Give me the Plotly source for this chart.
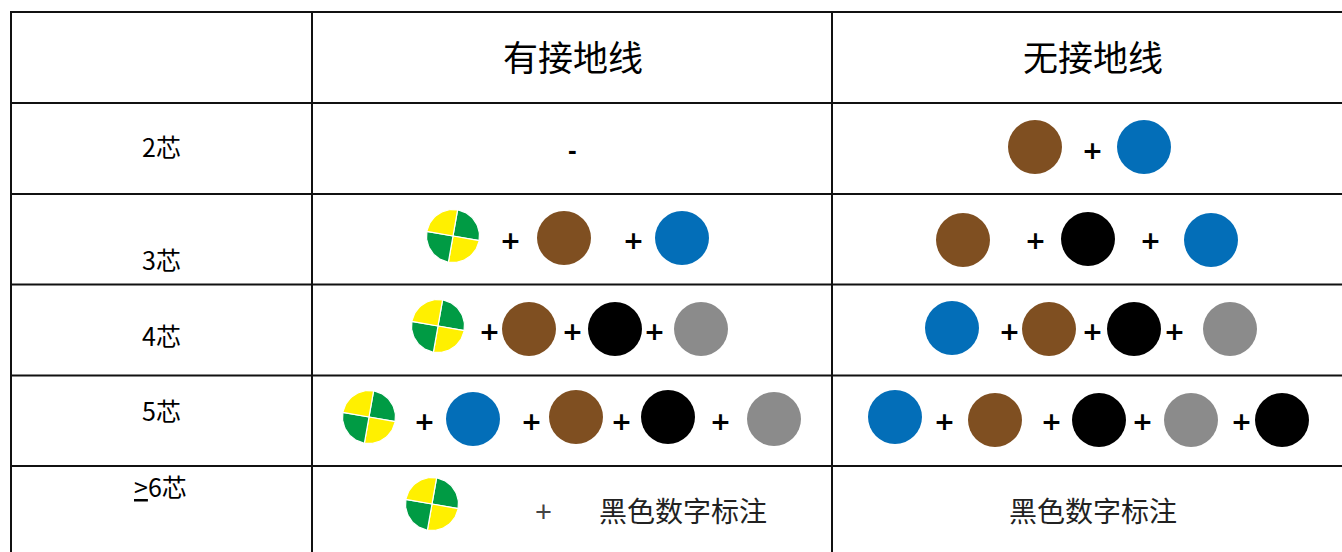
import math
import plotly.graph_objects as go

# ---------------- data ----------------
core_labels = ["2芯", "3芯", "4芯", "5芯", "<u>></u>6芯"]
column_headers = ["有接地线", "无接地线"]
# wire colour codes in each cell (GY = green/yellow earth)
grounded_wires = [[], ["GY", "棕", "蓝"], ["GY", "棕", "黑", "灰"],
                  ["GY", "蓝", "棕", "黑", "灰"], ["GY"]]
ungrounded_wires = [["棕", "蓝"], ["棕", "黑", "蓝"], ["蓝", "棕", "黑", "灰"],
                    ["蓝", "棕", "黑", "灰", "黑"], []]
none_mark = "-"
plus_mark = "+"
number_note = "黑色数字标注"

# ---------------- layout (pixel positions) ----------------
W, H = 1342, 552
row_lines = [12, 103, 194, 284.5, 375.5, 466]
col_lines = [11, 312, 832]
header_pos = [(573, 58), (1093, 58)]
label_pos = [(161, 149), (161, 262), (161, 338), (161, 413), (160, 489)]

g_wire_x = [[], [453, 564, 682], [438, 529, 615, 701], [369, 473, 576, 668, 774], [432]]
g_wire_y = [[], [236, 238, 238], [326, 329, 329, 329], [417, 419, 417, 417, 419], [504]]
g_plus_x = [[], [510, 633], [489, 572, 654], [424, 531, 621, 720], []]
g_plus_y = [None, 240, 331, 421, None]

u_wire_x = [[1035, 1144], [963, 1088, 1211], [952, 1049, 1134, 1230], [895, 995, 1099, 1191, 1282], []]
u_wire_y = [[147, 147], [240, 239, 240], [328, 329, 329, 329], [417, 420, 420, 420, 420], []]
u_plus_x = [[1092], [1035, 1150], [1009, 1092, 1174], [944, 1051, 1142, 1241], []]
u_plus_y = [150, 240, 331, 421, None]

colour = {"棕": "#7F4F21", "蓝": "#036EB8", "黑": "#000000", "灰": "#8B8B8B"}
GREEN, YELLOW = "#009B44", "#FFF000"
R_GY = 26.5
DOT = 54

CJK = "Noto Sans CJK SC"

fig = go.Figure()

# solid coloured wires
for wires, xs, ys in [(grounded_wires, g_wire_x, g_wire_y), (ungrounded_wires, u_wire_x, u_wire_y)]:
    for r, cell in enumerate(wires):
        for i, c in enumerate(cell):
            if c == "GY":
                cx, cy = xs[r][i], ys[r][i]
                # four quarters, rotated ~10 deg clockwise
                for q, (a0, fillc) in enumerate([(-80, GREEN), (10, YELLOW), (100, GREEN), (190, YELLOW)]):
                    px, py = [cx], [cy]
                    for k in range(31):
                        a = math.radians(a0 + 90 * k / 30)
                        px.append(cx + R_GY * math.cos(a))
                        py.append(cy + R_GY * math.sin(a))
                    px.append(cx); py.append(cy)
                    fig.add_trace(go.Scatter(x=px, y=py, mode="lines", fill="toself",
                                             fillcolor=fillc, line=dict(color="white", width=1.2),
                                             hoverinfo="skip", showlegend=False))
            else:
                fig.add_trace(go.Scatter(x=[xs[r][i]], y=[ys[r][i]], mode="markers",
                                         marker=dict(size=DOT, color=colour[c], line=dict(width=0)),
                                         hoverinfo="skip", showlegend=False))

# bold plus signs (text)
for pxs, py in [(g_plus_x, g_plus_y), (u_plus_x, u_plus_y)]:
    for r, row in enumerate(pxs):
        for x in row:
            fig.add_annotation(x=x, y=py[r], text="<b>" + plus_mark + "</b>", showarrow=False,
                               font=dict(family="DejaVu Sans", size=25, color="#000"),
                               xanchor="center", yanchor="middle")

# table lines
shapes = []
for y in row_lines:
    shapes.append(dict(type="line", x0=10, x1=W + 5, y0=y, y1=y, xref="x", yref="y",
                       line=dict(color="#111", width=2)))
for x in col_lines:
    shapes.append(dict(type="line", x0=x, x1=x, y0=11, y1=H + 5, xref="x", yref="y",
                       line=dict(color="#111", width=2)))
fig.update_layout(shapes=shapes)

# headers
for (x, y), t in zip(header_pos, column_headers):
    fig.add_annotation(x=x, y=y, text=t, showarrow=False, yshift=3,
                       font=dict(family=CJK, size=35, color="#000"))
# row labels
for (x, y), t in zip(label_pos, core_labels):
    fig.add_annotation(x=x, y=y, text=t, showarrow=False, yshift=3,
                       font=dict(family=CJK, size=25, color="#000"))

# "-" for 2-core grounded
fig.add_annotation(x=572, y=150, text="<b>" + none_mark + "</b>", showarrow=False,
                   font=dict(family="Liberation Sans", size=26, color="#000"))
# >=6 core notes
fig.add_annotation(x=543, y=512, text=plus_mark, showarrow=False,
                   font=dict(family="Liberation Sans", size=29, color="#444444"))
fig.add_annotation(x=683, y=512, text=number_note, showarrow=False, yshift=2,
                   font=dict(family=CJK, size=28, color="#222"))
fig.add_annotation(x=1093, y=512, text=number_note, showarrow=False, yshift=2,
                   font=dict(family=CJK, size=28, color="#222"))

fig.update_layout(
    width=W, height=H, margin=dict(l=0, r=0, t=0, b=0),
    paper_bgcolor="white", plot_bgcolor="white",
    xaxis=dict(range=[0, W], visible=False, fixedrange=True),
    yaxis=dict(range=[H, 0], visible=False, fixedrange=True),
    showlegend=False,
)

fig.write_html("out.html", config={"displayModeBar": False},
               post_script="document.body.style.margin='0';document.body.style.overflow='hidden';")
